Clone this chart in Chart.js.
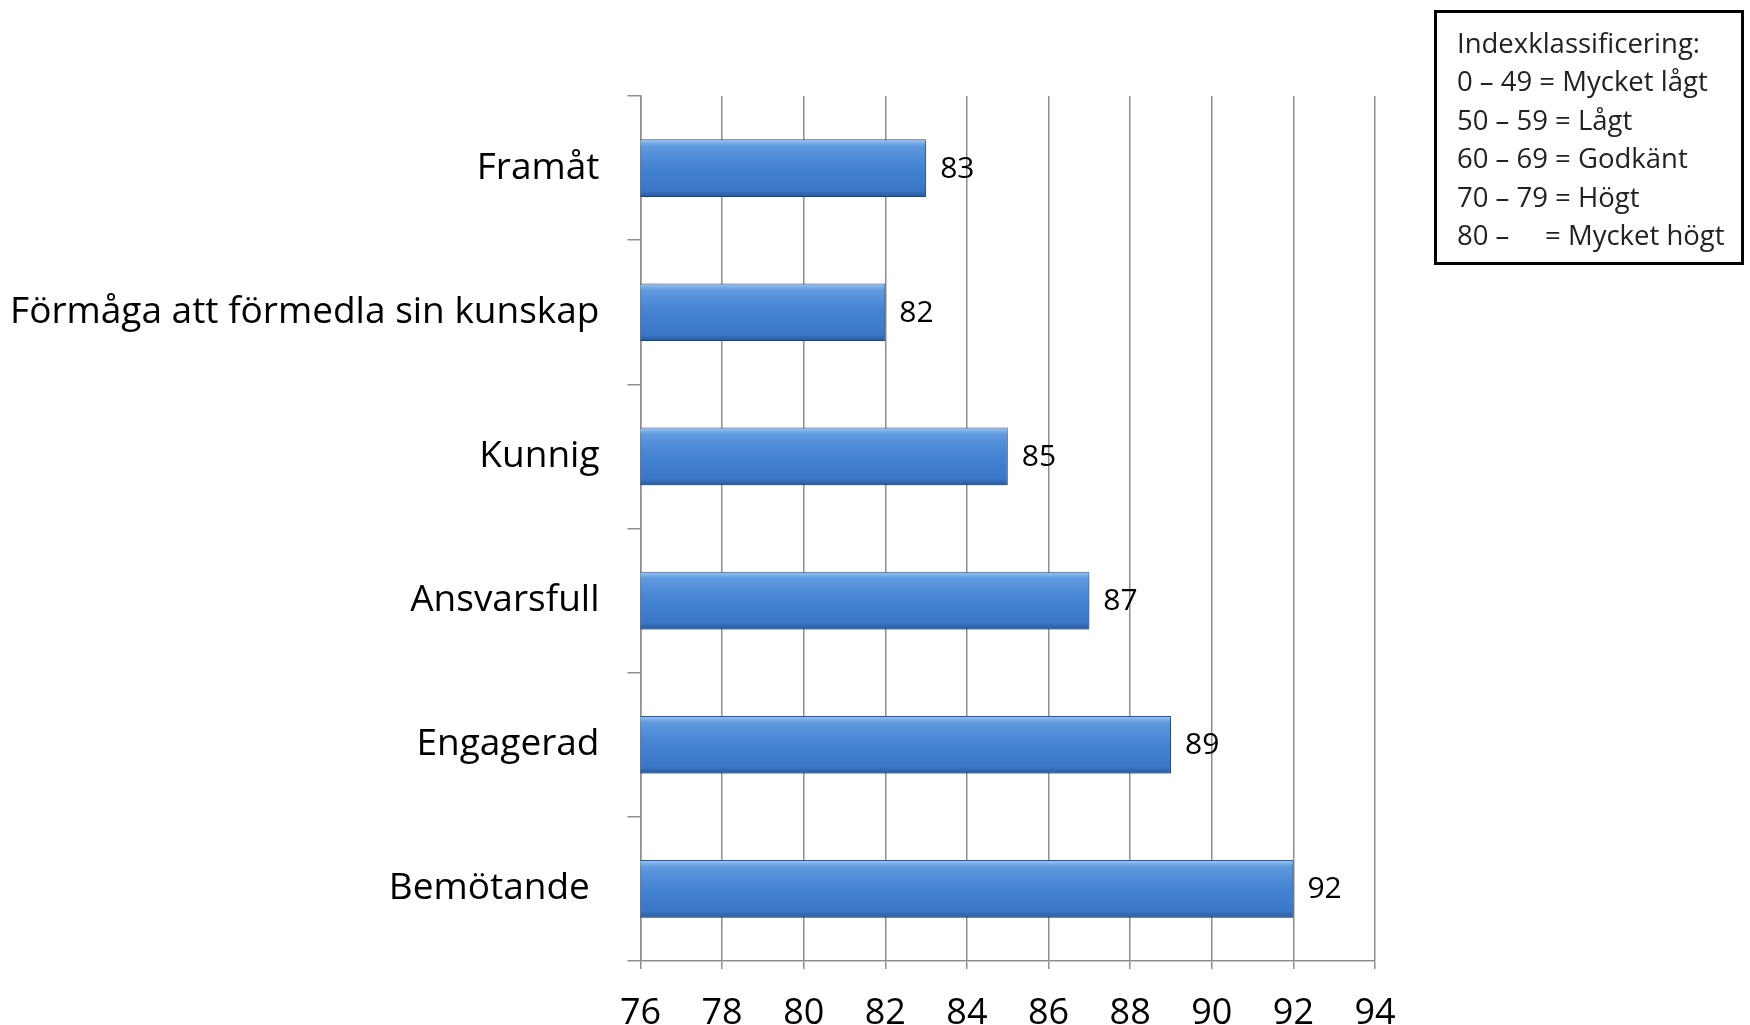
<!DOCTYPE html>
<html>
<head>
<meta charset="utf-8">
<script src="https://cdn.jsdelivr.net/npm/chart.js@4/dist/chart.umd.min.js"></script>
<style>
  html, body { margin: 0; padding: 0; background: #fff; }
  #wrap { position: relative; width: 1750px; height: 1025px; }
  #legendBox {
    position: absolute; left: 1434px; top: 10px; width: 310px; height: 255px;
    border: 3px solid #000; box-sizing: border-box;
    font-family: "Open Sans", sans-serif; font-size: 27.5px; line-height: 38.4px;
    padding: 11px 0 0 20px; white-space: pre; color: #222;
  }
</style>
</head>
<body>
<div id="wrap">
  <canvas id="chart" width="1750" height="1025"></canvas>
  <div id="legendBox">Indexklassificering:
0 – 49 = Mycket lågt
50 – 59 = Lågt
60 – 69 = Godkänt
70 – 79 = Högt
80 –     = Mycket högt</div>
</div>
<script>
// data
const kategorier = ["Framåt", "Förmåga att förmedla sin kunskap", "Kunnig", "Ansvarsfull", "Engagerad", "Bemötande "];
const varden = [83, 82, 85, 87, 89, 92];
const xMin = 76, xMax = 94, xSteg = 2;

const grid = "#8e8e8e";

// skugga under staplarna
const skuggaPlugin = {
  id: "skugga",
  beforeDatasetsDraw(chart) {
    const ctx = chart.ctx;
    ctx.save();
    ctx.shadowColor = "rgba(0,0,0,0.35)";
    ctx.shadowBlur = 6;
    ctx.shadowOffsetX = 2;
    ctx.shadowOffsetY = 3;
  },
  afterDatasetsDraw(chart) {
    chart.ctx.restore();
  }
};

// värden bredvid staplarna
const etikettPlugin = {
  id: "etiketter",
  afterDatasetsDraw(chart) {
    const ctx = chart.ctx;
    const meta = chart.getDatasetMeta(0);
    ctx.save();
    ctx.font = '30px "Open Sans", sans-serif';
    ctx.fillStyle = "#000";
    ctx.textBaseline = "middle";
    meta.data.forEach((bar, i) => {
      ctx.fillText(String(varden[i]), bar.x + 14, bar.y + 1);
    });
    ctx.restore();
  }
};

function stapelFarg(c) {
  const chart = c.chart;
  if (!chart.chartArea) return "#3f7fcf";
  const y = chart.scales.y.getPixelForValue(c.dataIndex);
  const h = 29;
  const g = chart.ctx.createLinearGradient(0, y - h, 0, y + h);
  g.addColorStop(0, "#9cc8f6");
  g.addColorStop(0.12, "#5f99df");
  g.addColorStop(0.5, "#4382d1");
  g.addColorStop(0.88, "#3b78c8");
  g.addColorStop(1, "#2a5795");
  return g;
}

new Chart(document.getElementById("chart"), {
  type: "bar",
  data: {
    labels: kategorier,
    datasets: [{
      data: varden,
      backgroundColor: stapelFarg,
      borderColor: "#2c5a98",
      borderWidth: 1,
      borderSkipped: false,
      categoryPercentage: 0.8,
      barPercentage: 0.5
    }]
  },
  options: {
    indexAxis: "y",
    responsive: false,
    animation: false,
    layout: { padding: { left: 0, right: 375, top: 96, bottom: 0 } },
    plugins: { legend: { display: false }, tooltip: { enabled: false } },
    scales: {
      x: {
        min: xMin, max: xMax,
        ticks: { stepSize: xSteg, color: "#000", font: { family: "Open Sans", size: 36 }, padding: 23 },
        grid: { color: grid, lineWidth: 1.5, tickLength: 8 },
        border: { color: grid, width: 1.5 },
        afterFit(s) { s.height = 64; }
      },
      y: {
        ticks: { color: "#000", font: { family: "Open Sans", size: 37 }, padding: 28 },
        grid: { offset: true, drawOnChartArea: false, color: grid, lineWidth: 1.5, tickLength: 13 },
        border: { color: grid, width: 1.5 },
        afterFit(s) { s.width = 640.5; }
      }
    }
  },
  plugins: [skuggaPlugin, etikettPlugin]
});
</script>
</body>
</html>
